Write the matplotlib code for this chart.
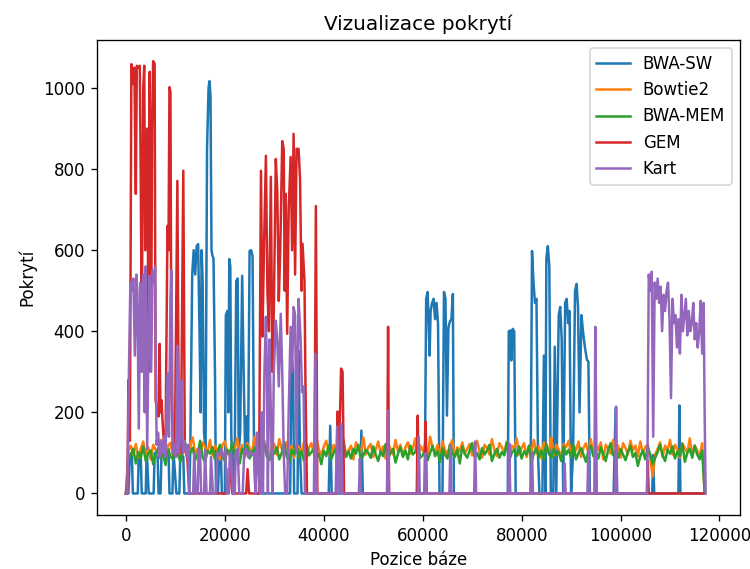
import numpy as np
import matplotlib
matplotlib.use("Agg")
import matplotlib.pyplot as plt

# ── Bowtie2 / BWA-MEM: sampled every 0.5 kb from 0 to 117 kb ──────────────
bowtie2_cov = [
    0, 105, 118, 96, 122, 88, 110, 128, 92, 115, 84, 120, 108, 95, 132, 100, 78, 118, 125, 90,
    112, 130, 96, 120, 104, 86, 122, 138, 98, 110, 90, 126, 115, 100, 132, 94, 118, 106, 84, 120,
    128, 102, 92, 118, 110, 136, 96, 120, 88, 124, 112, 98, 140, 106, 90, 118, 130, 100, 84, 116,
    122, 96, 134, 110, 92, 126, 104, 118, 88, 120, 114, 100, 128, 86, 112, 124, 98, 140, 108, 94,
    116, 130, 102, 88, 120, 110, 96, 124, 134, 92, 106, 118, 84, 126, 112, 100, 138, 96, 114, 122,
    90, 108, 128, 100, 116, 86, 124, 110, 96, 132, 104, 120, 92, 114, 126, 98, 110, 136, 88, 118,
    106, 124, 94, 140, 112, 100, 120, 86, 128, 108, 96, 118, 132, 90, 114, 104, 126, 98, 110, 122,
    94, 116, 130, 102, 88, 120, 112, 96, 134, 106, 92, 124, 114, 100, 128, 86, 118, 110, 136, 96,
    112, 124, 90, 118, 104, 132, 98, 116, 86, 126, 110, 100, 138, 94, 120, 108, 88, 122, 114, 130,
    96, 118, 106, 128, 90, 112, 124, 100, 134, 92, 116, 108, 126, 84, 120, 110, 98, 132, 104, 118,
    88, 124, 112, 96, 130, 106, 118, 92, 128, 100, 114, 122, 86, 42, 96, 110, 126, 90, 118, 104,
    132, 96, 120, 108, 88, 124, 112, 100, 136, 94, 118, 106, 90, 124, 0,
]
bwamem_cov = [
    0, 82, 96, 110, 74, 102, 88, 116, 80, 98, 106, 72, 94, 112, 86, 100, 70, 108, 92, 84,
    118, 96, 78, 104, 124, 88, 100, 112, 82, 96, 130, 90, 76, 106, 98, 114, 84, 102, 120, 92,
    80, 108, 96, 126, 88, 102, 74, 110, 94, 118, 86, 100, 112, 78, 104, 96, 122, 90, 82, 106,
    98, 114, 84, 100, 128, 92, 76, 108, 96, 116, 88, 104, 80, 120, 94, 102, 110, 86, 98, 72,
    106, 92, 118, 84, 100, 112, 78, 96, 124, 90, 104, 86, 110, 98, 120, 82, 94, 108, 100, 88,
    116, 96, 80, 104, 92, 122, 86, 100, 110, 76, 98, 114, 90, 106, 84, 118, 96, 102, 130, 88,
    94, 110, 82, 100, 118, 92, 104, 78, 112, 96, 86, 120, 100, 90, 108, 74, 116, 98, 88, 106,
    124, 90, 100, 84, 112, 96, 106, 120, 80, 98, 110, 88, 102, 94, 126, 82, 100, 108, 92, 116,
    86, 104, 96, 118, 76, 100, 112, 90, 106, 84, 122, 98, 88, 110, 94, 102, 80, 116, 96, 108,
    90, 120, 84, 100, 112, 96, 78, 106, 118, 92, 102, 86, 114, 98, 80, 108, 124, 94, 100, 88,
    110, 96, 82, 104, 118, 90, 100, 68, 92, 106, 84, 114, 96, 72, 88, 102, 120, 94, 80, 108,
    98, 116, 86, 104, 92, 122, 78, 100, 110, 88, 118, 96, 84, 106, 0,
]
grid_kb = [0.5 * i for i in range(len(bowtie2_cov))]

# ── BWA-SW: (position kb, coverage) knots ─────────────────────────────────
bwasw_kb = [
    0, 0.5, 0.8, 1.2, 1.4, 2.4, 2.6, 3.0, 3.2, 4.0, 4.2, 4.6, 5.6, 5.8, 6.4, 6.6, 7.0, 7.2, 8.6, 8.8,
    9.4, 9.6, 10.2, 10.8, 11.0, 11.6, 11.8, 12.8, 13.0, 13.4, 13.7, 14.0, 14.3, 14.6, 14.9, 15.1,
    15.3, 15.5, 15.8, 16.1, 16.4, 16.7, 16.9, 17.1, 17.3, 17.5, 17.7, 18.0, 18.2, 18.6, 18.9, 19.2,
    19.4, 20.0, 20.2, 20.5, 20.7, 20.9, 21.1, 21.3, 21.6, 22.0, 22.3, 22.6, 22.8, 23.1, 23.5, 23.8,
    24.1, 24.4, 24.7, 25.0, 25.3, 25.6, 25.9, 26.2, 33.2, 33.5, 33.8, 34.0, 34.7, 34.9, 35.2, 35.5,
    41.0, 41.3, 41.6, 47.3, 47.6, 47.9, 60.4, 60.7, 61.0, 61.2, 61.4, 61.6, 61.9, 62.2, 62.5, 62.8,
    63.1, 63.4, 64.0, 64.3, 64.6, 64.9, 65.2, 65.5, 65.8, 66.1, 66.3, 77.2, 77.4, 77.7, 77.9, 78.2,
    78.5, 78.8, 81.8, 82.1, 82.4, 82.7, 83.0, 83.3, 83.6, 84.2, 84.5, 84.8, 85.0, 85.3, 85.6, 85.9,
    86.4, 86.7, 87.0, 87.5, 87.8, 88.1, 88.4, 88.8, 89.1, 89.4, 89.7, 90.0, 90.4, 90.8, 91.1, 91.4,
    91.7, 92.1, 92.4, 92.8, 93.2, 93.5, 93.8, 98.6, 98.8, 99.0, 99.3, 106.4, 106.6, 106.8, 107.2,
    111.7, 111.9, 112.1, 117.0,
]
bwasw_cov = [
    0, 0, 95, 100, 0, 0, 100, 90, 0, 0, 110, 0, 0, 100, 95, 0, 0, 100, 110, 0,
    0, 105, 0, 0, 100, 90, 0, 0, 100, 540, 600, 540, 610, 615, 380, 200,
    600, 525, 150, 100, 850, 1000, 1017, 980, 600, 586, 580, 300, 0, 0, 107, 100,
    0, 0, 440, 450, 200, 578, 560, 150, 0, 100, 524, 530, 100, 150, 537, 300,
    100, 190, 100, 598, 600, 586, 100, 0, 0, 338, 300, 0, 0, 352, 100, 0,
    0, 167, 0, 0, 155, 0, 0, 480, 497, 420, 340, 450, 470, 480, 430, 470,
    418, 0, 0, 497, 480, 192, 410, 424, 430, 492, 0, 0, 400, 402, 328, 406,
    400, 0, 0, 598, 520, 470, 480, 100, 0, 0, 340, 0, 580, 610, 560, 0,
    0, 362, 0, 440, 460, 380, 0, 470, 480, 420, 450, 0, 100, 500, 517, 460,
    200, 440, 400, 360, 330, 325, 0, 0, 100, 210, 0, 0, 95, 0, 0,
    0, 217, 0, 0,
]

# ── GEM ───────────────────────────────────────────────────────────────────
gem_kb = [
    0, 0.3, 0.5, 0.8, 1.1, 1.4, 1.7, 2.0, 2.2, 2.5, 2.8, 3.0, 3.2, 3.5, 3.7, 3.9, 4.1, 4.3, 4.6, 4.8,
    5.1, 5.3, 5.5, 5.8, 6.0, 6.3, 6.6, 6.8, 7.0, 7.2, 7.4, 7.7, 8.0, 8.4, 8.6, 8.8, 9.0, 9.2, 9.5,
    9.9, 10.4, 10.7, 11.1, 11.6, 11.9, 12.4, 12.8, 20.6, 20.8, 21.2, 21.5, 24.3, 24.6, 24.9, 26.9,
    27.3, 27.6, 27.9, 28.3, 28.6, 28.9, 29.3, 29.6, 29.9, 30.3, 30.6, 30.9, 31.2, 31.6, 31.9, 32.1,
    32.3, 32.6, 32.9, 33.3, 33.6, 33.9, 34.2, 34.5, 34.9, 35.2, 35.5, 35.7, 36.1, 36.3, 36.6, 38.1,
    38.4, 38.7, 42.5, 42.8, 43.1, 43.5, 43.8, 44.1, 52.8, 53.0, 53.2, 58.8, 59.0, 59.2, 60.4, 60.6,
    60.8, 105.3, 105.5, 105.7, 116.8,
]
gem_cov = [
    0, 0, 280, 130, 1059, 1010, 1050, 739, 1055, 1050, 1055, 763, 394, 1000, 1055, 600, 700, 900, 300, 1040,
    400, 900, 1066, 1060, 229, 210, 190, 369, 200, 230, 180, 120, 110, 660, 600, 1002, 990, 250, 110,
    120, 771, 130, 100, 796, 110, 90, 0, 0, 60, 40, 0, 0, 60, 0, 0,
    796, 387, 600, 833, 500, 400, 781, 300, 450, 825, 746, 475, 600, 869, 850, 500,
    739, 394, 700, 830, 600, 887, 540, 850, 850, 776, 500, 616, 525, 264, 0, 0,
    709, 0, 0, 202, 100, 308, 300, 0, 0, 411, 0, 0, 192, 0, 0, 177,
    0, 0, 80, 0, 0,
]

# ── Kart ──────────────────────────────────────────────────────────────────
kart_kb = [
    0, 0.3, 0.6, 0.9, 1.2, 1.5, 1.8, 2.1, 2.3, 2.6, 2.9, 3.2, 3.5, 3.8, 4.0, 4.3, 4.6, 4.8, 5.1, 5.4,
    5.7, 5.9, 6.2, 6.5, 6.8, 7.1, 7.4, 7.7, 8.0, 8.4, 8.7, 9.0, 9.2, 9.5, 9.8, 10.1, 10.4, 10.7, 11.0,
    11.2, 11.5, 11.9, 12.3, 12.6, 12.8, 13.6, 13.8, 14.1, 14.5, 14.7, 15.0, 15.2, 15.8, 16.0, 16.3,
    17.0, 17.2, 17.6, 18.2, 18.5, 18.9, 19.3, 19.7, 20.1, 20.4, 20.8, 21.0, 21.3, 21.6, 22.0, 22.2,
    22.6, 22.9, 23.6, 23.9, 24.3, 24.7, 25.1, 25.5, 25.9, 26.2, 26.5, 26.8, 27.1, 27.4, 27.7, 28.0,
    28.3, 28.5, 28.7, 29.0, 29.3, 29.6, 29.9, 30.3, 30.6, 30.9, 31.3, 31.6, 31.9, 32.2, 32.6, 32.9,
    33.3, 33.6, 33.9, 34.2, 34.5, 34.9, 35.3, 35.6, 35.9, 36.2, 38.0, 38.3, 38.6, 42.4, 42.7, 43.0,
    43.3, 43.5, 43.8, 47.1, 47.3, 47.5, 52.8, 53.0, 53.2, 59.0, 59.2, 59.4, 60.4, 60.6, 60.8, 65.4,
    65.6, 65.8, 70.4, 70.6, 70.8, 77.3, 77.5, 77.7, 81.9, 82.1, 82.3, 88.5, 88.7, 88.9, 93.3, 93.5,
    93.7, 94.7, 94.9, 95.2, 98.9, 99.1, 99.3, 105.4, 105.7, 106.0, 106.3, 106.6, 106.9, 107.2, 107.5,
    107.8, 108.1, 108.4, 108.7, 109.0, 109.3, 109.6, 109.9, 110.2, 110.5, 110.8, 111.1, 111.4, 111.7,
    112.0, 112.3, 112.6, 112.9, 113.2, 113.5, 113.8, 114.1, 114.4, 114.7, 115.0, 115.3, 115.6, 115.9,
    116.2, 116.5, 116.8, 117.0, 117.2,
]
kart_cov = [
    0, 0, 300, 520, 500, 530, 340, 540, 500, 160, 520, 300, 540, 200, 560, 110, 420, 537, 300, 550,
    520, 560, 120, 150, 90, 130, 100, 140, 90, 296, 140, 480, 550, 100, 120, 90, 364, 100, 150,
    279, 100, 130, 90, 120, 0, 0, 100, 0, 0, 110, 100, 0, 0, 105, 0,
    0, 90, 0, 0, 100, 95, 110, 90, 105, 0, 0, 100, 95, 0, 0, 100,
    110, 0, 0, 100, 110, 90, 105, 95, 100, 0, 150, 50, 0, 200, 0, 300,
    436, 300, 0, 380, 200, 0, 300, 426, 380, 264, 443, 300, 100, 0, 0, 200,
    411, 300, 460, 440, 100, 480, 387, 250, 264, 0, 0, 345, 0, 0, 165, 0,
    0, 172, 0, 0, 86, 0, 0, 204, 0, 0, 140, 0, 0, 99, 0, 0,
    118, 0, 0, 128, 0, 0, 123, 0, 0, 103, 0, 0, 74, 0, 0, 111,
    0, 0, 411, 0, 0, 214, 0, 0, 540, 500, 547, 140, 520, 480, 530,
    470, 510, 400, 490, 450, 500, 520, 430, 235, 480, 420, 440, 360, 430,
    345, 490, 400, 440, 480, 390, 450, 400, 420, 470, 380, 420, 360, 400,
    475, 345, 470, 200, 0,
]

series = [
    ("BWA-SW", bwasw_kb, bwasw_cov),
    ("Bowtie2", grid_kb, bowtie2_cov),
    ("BWA-MEM", grid_kb, bwamem_cov),
    ("GEM", gem_kb, gem_cov),
    ("Kart", kart_kb, kart_cov),
]

fig, ax = plt.subplots(figsize=(6.25, 4.742), dpi=120)
fig.subplots_adjust(left=0.129, right=0.987, bottom=0.095, top=0.930)

for name, pos_kb, cov in series:
    ax.plot(np.array(pos_kb) * 1000, cov, label=name)

ax.set_xlim(-5900, 124200)
ax.set_ylim(-53, 1119)
ax.set_title("Vizualizace pokrytí")
ax.set_xlabel("Pozice báze")
ax.set_ylabel("Pokrytí")
ax.legend(loc="upper right")

plt.savefig("out.png", dpi=120)
